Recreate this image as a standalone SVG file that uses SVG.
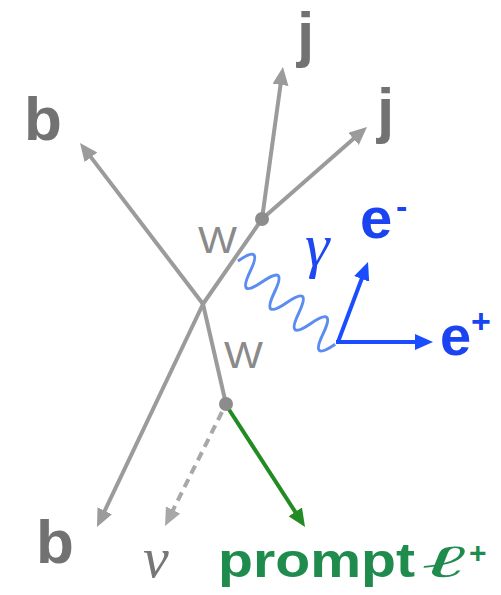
<svg xmlns="http://www.w3.org/2000/svg" width="501" height="595" viewBox="0 0 501 595">
<style>
.g{stroke:#9b9b9b;stroke-width:4;fill:none}
.gd{stroke:#a8a8a8;stroke-width:4;fill:none;stroke-dasharray:9 6}
.gr{stroke:#238b23;stroke-width:4;fill:none}
.bl{stroke:#1a4dff;stroke-width:4;fill:none}
.ph{stroke:#5b8cf2;stroke-width:3;fill:none}
.lbl{font-family:"Liberation Sans",Arial,sans-serif;font-weight:bold;fill:#727272}
.w{font-family:"Liberation Sans",Arial,sans-serif;fill:#8a8a8a}
.bt{font-family:"Liberation Sans",Arial,sans-serif;font-weight:bold;fill:#1a44f0}
.sym{font-family:"Liberation Serif","DejaVu Serif",serif;font-style:italic}
.ell{font-family:"DejaVu Serif",serif;font-style:italic}
.gt{font-family:"Liberation Sans",Arial,sans-serif;font-weight:bold;fill:#1f8c4e}
</style>
<defs>
<marker id="ag" markerUnits="userSpaceOnUse" markerWidth="20" markerHeight="18" refX="8" refY="8" orient="auto"><path d="M0,0 L18,8 L0,16 z" fill="#9b9b9b"/></marker>
<marker id="agd" markerUnits="userSpaceOnUse" markerWidth="20" markerHeight="18" refX="8" refY="8" orient="auto"><path d="M0,0 L18,8 L0,16 z" fill="#a8a8a8"/></marker>
<marker id="agr" markerUnits="userSpaceOnUse" markerWidth="20" markerHeight="18" refX="8" refY="8" orient="auto"><path d="M0,0 L18,8 L0,16 z" fill="#238b23"/></marker>
<marker id="ab" markerUnits="userSpaceOnUse" markerWidth="20" markerHeight="18" refX="8" refY="8" orient="auto"><path d="M0,0 L18,8 L0,16 z" fill="#1a4dff"/></marker>
</defs>
<g id="connectors">
<line class="g" x1="203" y1="304" x2="86.1" y2="150.9" marker-end="url(#ag)"/>
<line class="g" x1="203" y1="304" x2="101.3" y2="518" marker-end="url(#ag)"/>
<line class="g" x1="203" y1="304" x2="262" y2="219"/>
<line class="g" x1="262" y1="219" x2="281.6" y2="76.9" marker-end="url(#ag)"/>
<line class="g" x1="262" y1="219" x2="359.5" y2="133.6" marker-end="url(#ag)"/>
<line class="g" x1="203" y1="304" x2="226" y2="404"/>
<line class="gd" x1="222" y1="412" x2="169.5" y2="517.1" marker-end="url(#agd)"/>
<line class="gr" x1="228" y1="408" x2="299.6" y2="518.6" marker-end="url(#agr)"/>
<path class="ph" transform="translate(238,261) rotate(40.6)" d="M0,0 q8,-30 16,0 t16,0 t16,0 t16,0 t16,0 t16,0 t16,0 t16,0"/>
<line class="bl" x1="338" y1="342" x2="364.5" y2="271.4" marker-end="url(#ab)"/>
<line class="bl" x1="336" y1="342" x2="423" y2="342" marker-end="url(#ab)"/>
</g>
<g id="vertices">
<circle cx="262" cy="219" r="7" fill="#8c8c8c"/>
<circle cx="226" cy="404" r="7" fill="#8c8c8c"/>
</g>
<g id="labels">
<text class="lbl" x="297" y="55" font-size="62">j</text>
<text class="lbl" x="377" y="131" font-size="62">j</text>
<text class="lbl" x="24" y="140" font-size="62">b</text>
<text class="lbl" x="36" y="563" font-size="62">b</text>
<text class="w" x="198" y="253" font-size="36" textLength="39" lengthAdjust="spacingAndGlyphs">W</text>
<text class="w" x="224" y="368" font-size="36" textLength="39" lengthAdjust="spacingAndGlyphs">W</text>
<text class="sym" x="305" y="266" font-size="62" fill="#1f48f0">γ</text>
<text class="bt" x="360" y="238" font-size="58">e</text>
<text class="bt" x="396" y="218" font-size="34">-</text>
<text class="bt" x="440" y="355" font-size="56">e</text>
<text class="bt" x="471" y="333" font-size="34">+</text>
<text class="sym" x="143" y="577" font-size="58" fill="#777">ν</text>
<text class="gt" x="218" y="577" font-size="48" textLength="197" lengthAdjust="spacingAndGlyphs">prompt</text>
<text class="ell" x="421" y="577" font-size="46" fill="#1f8c4e" textLength="44" lengthAdjust="spacingAndGlyphs">ℓ</text>
<text class="gt" x="469" y="563" font-size="30">+</text>
</g>
</svg>
